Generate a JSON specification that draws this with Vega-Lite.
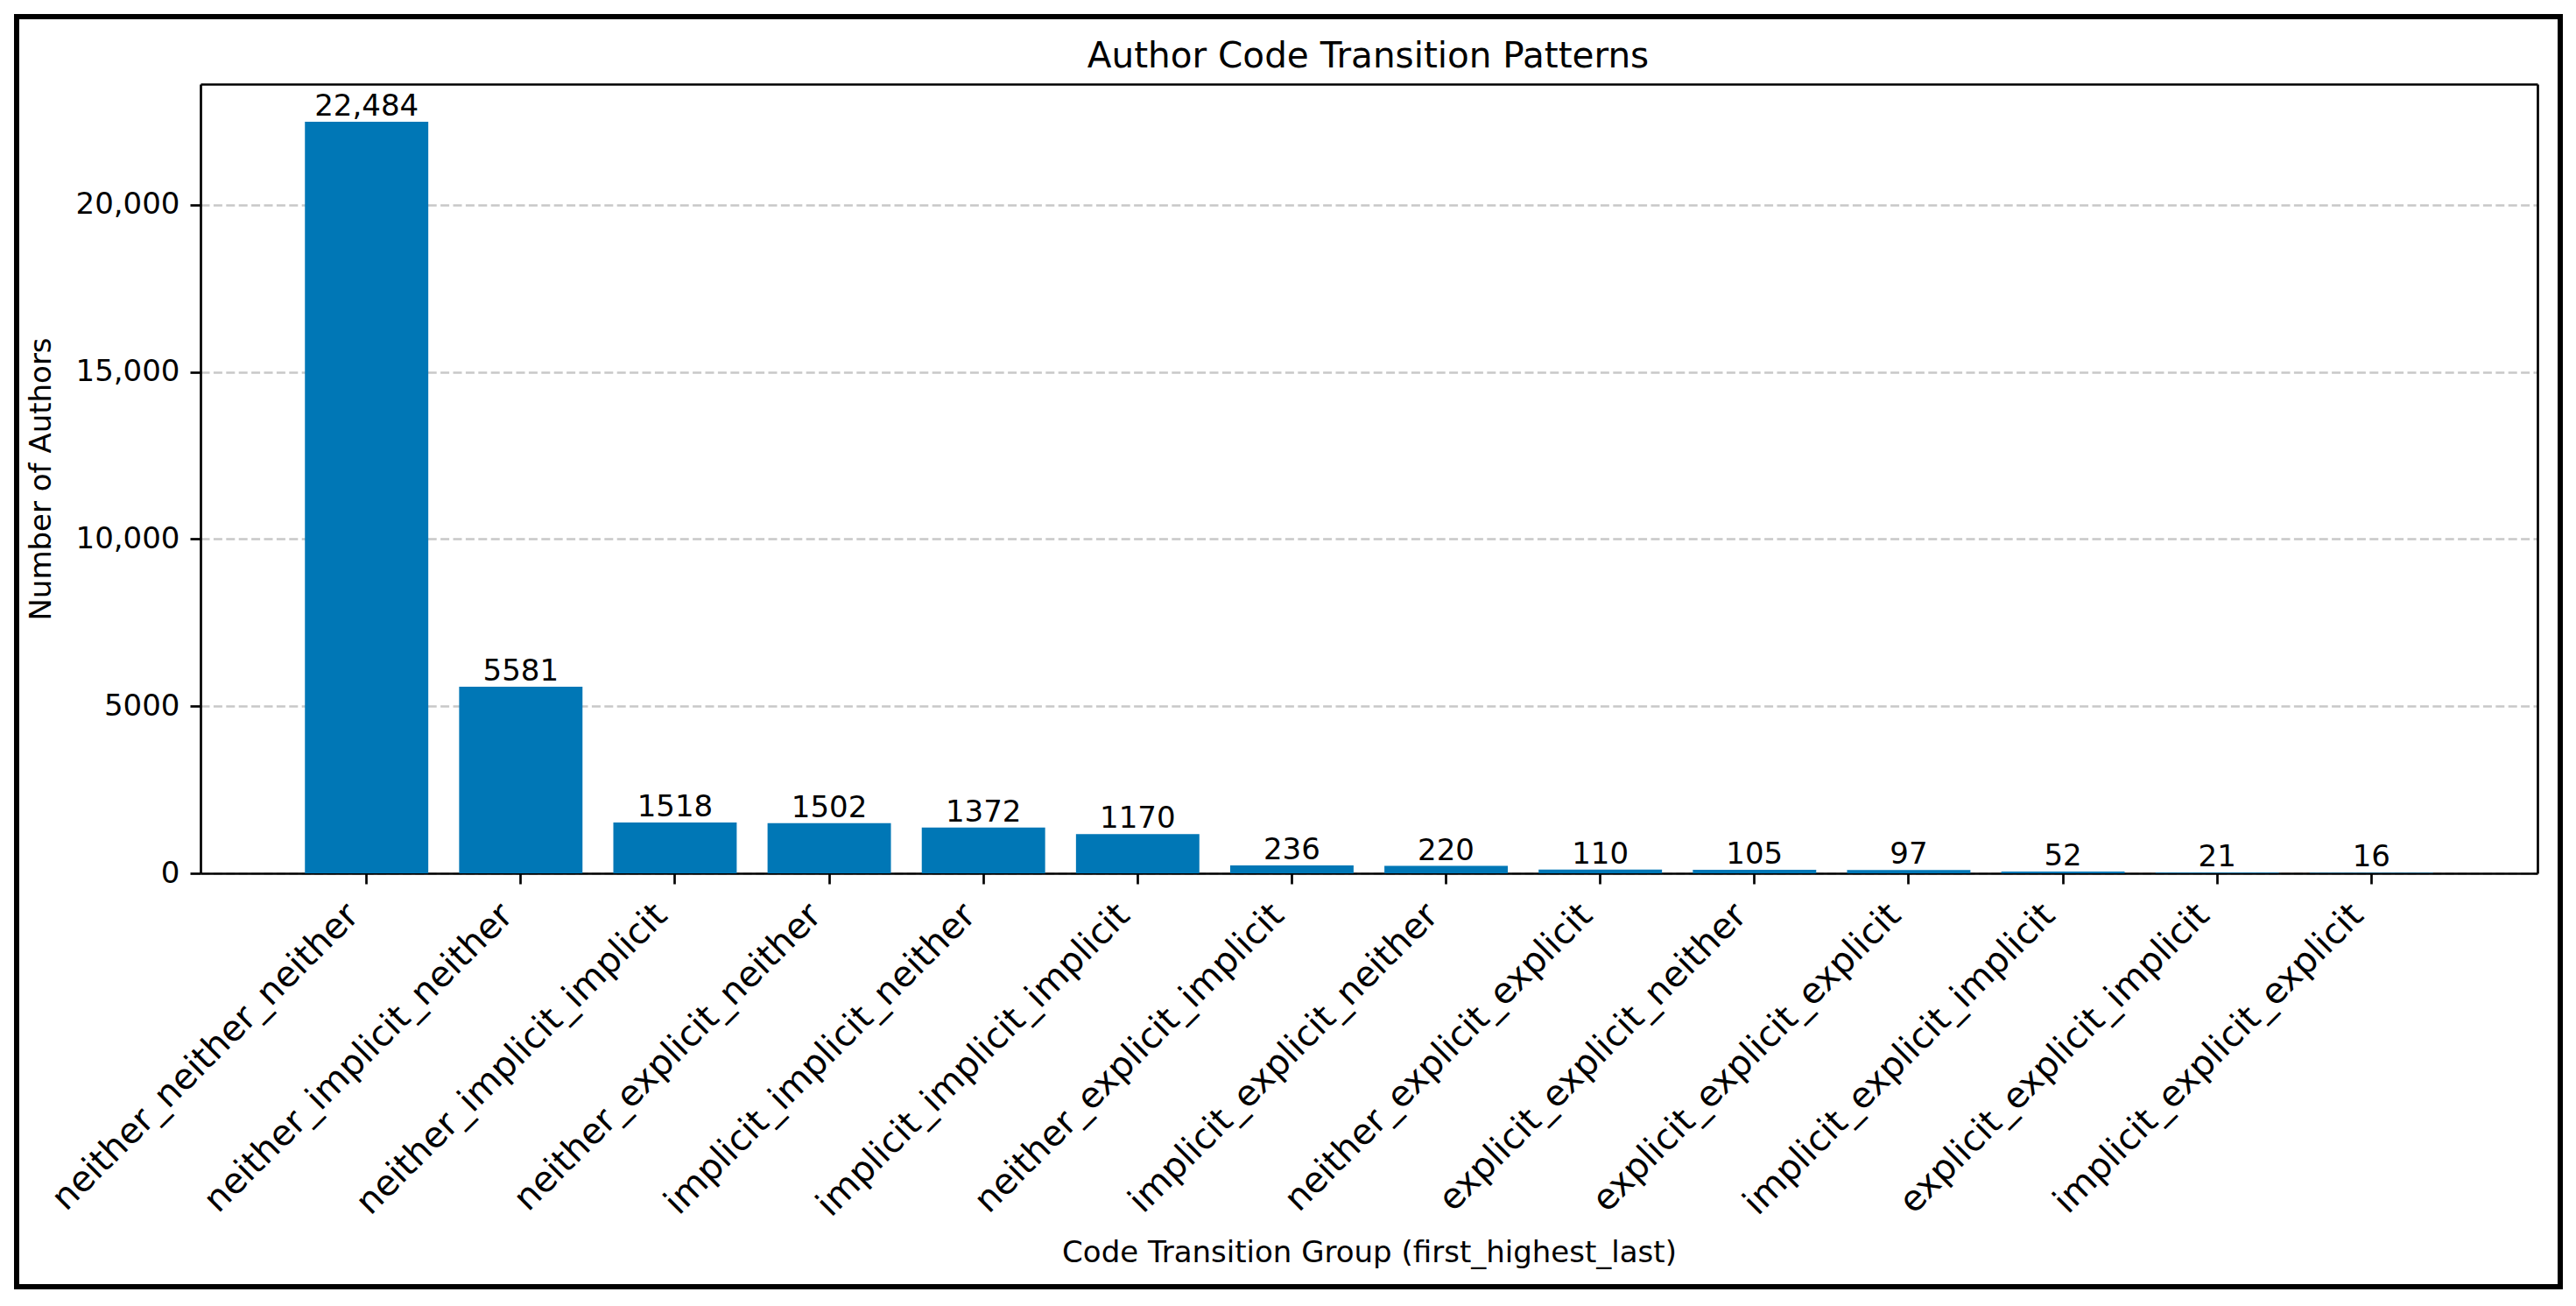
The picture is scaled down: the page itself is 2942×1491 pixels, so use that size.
{
  "$schema": "https://vega.github.io/schema/vega-lite/v6.json",
  "width": 2905,
  "height": 1450,
  "autosize": {"type": "none"},
  "padding": {"left": 19, "top": 19, "right": 18, "bottom": 22},
  "background": "white",
  "title": {
    "text": "Author Code Transition Patterns",
    "font": "DejaVu Sans",
    "fontSize": 40.5,
    "fontWeight": "normal",
    "color": "black",
    "anchor": "middle",
    "frame": "group",
    "dx": 91,
    "offset": -66
  },
  "data": {
    "values": [
      {"group": "neither_neither_neither", "count": 22484},
      {"group": "neither_implicit_neither", "count": 5581},
      {"group": "neither_implicit_implicit", "count": 1518},
      {"group": "neither_explicit_neither", "count": 1502},
      {"group": "implicit_implicit_neither", "count": 1372},
      {"group": "implicit_implicit_implicit", "count": 1170},
      {"group": "neither_explicit_implicit", "count": 236},
      {"group": "implicit_explicit_neither", "count": 220},
      {"group": "neither_explicit_explicit", "count": 110},
      {"group": "explicit_explicit_neither", "count": 105},
      {"group": "explicit_explicit_explicit", "count": 97},
      {"group": "implicit_explicit_implicit", "count": 52},
      {"group": "explicit_explicit_implicit", "count": 21},
      {"group": "implicit_explicit_explicit", "count": 16}
    ]
  },
  "layer": [
    {
      "mark": {"type": "bar", "color": "#0077b6"},
      "encoding": {
        "x": {
          "field": "group",
          "type": "nominal",
          "sort": null,
          "scale": {"type": "band", "paddingInner": 0.2, "paddingOuter": 0.677, "range": [210, 2879]},
          "axis": {
            "orient": "bottom",
            "offset": -472,
            "grid": false,
            "labelAngle": -45,
            "labelAlign": "right",
            "labelBaseline": "alphabetic",
            "labelOffset": -7,
            "labelPadding": 38,
            "labelFontSize": 40.5,
            "labelLimit": 0,
            "labelOverlap": false,
            "title": "Code Transition Group (first_highest_last)",
            "titleFontSize": 34,
            "titleBaseline": "alphabetic",
            "titleY": 443
          }
        },
        "y": {
          "field": "count",
          "type": "quantitative",
          "scale": {"domain": [0, 23608], "nice": false, "range": [978, 77]},
          "axis": {
            "orient": "left",
            "offset": -210,
            "values": [0, 5000, 10000, 15000, 20000],
            "labelExpr": "datum.value >= 10000 ? format(datum.value, ',') : format(datum.value, 'd')",
            "labelFontSize": 34,
            "labelPadding": 12,
            "labelOverlap": false,
            "grid": true,
            "gridColor": "#c8c8c8",
            "gridDash": [10, 4.4],
            "gridWidth": 2.7,
            "title": "Number of Authors",
            "titleFontSize": 34,
            "titlePadding": 22
          }
        }
      }
    },
    {
      "mark": {"type": "text", "baseline": "alphabetic", "dy": -7, "fontSize": 34, "font": "DejaVu Sans", "color": "black"},
      "encoding": {
        "x": {
          "field": "group",
          "type": "nominal",
          "sort": null,
          "axis": {"orient": "top", "offset": -77, "labels": false, "ticks": false, "grid": false, "title": null}
        },
        "y": {
          "field": "count",
          "type": "quantitative",
          "axis": {"orient": "right", "offset": -26, "labels": false, "ticks": false, "grid": false, "title": null}
        },
        "text": {
          "condition": {"test": "datum.count >= 10000", "field": "count", "type": "quantitative", "format": ","},
          "field": "count",
          "type": "quantitative",
          "format": "d"
        }
      }
    }
  ],
  "resolve": {"axis": {"x": "independent", "y": "independent"}},
  "config": {
    "view": {"stroke": "black", "strokeWidth": 6},
    "axis": {
      "labelFont": "DejaVu Sans",
      "titleFont": "DejaVu Sans",
      "labelColor": "black",
      "titleColor": "black",
      "titleFontWeight": "normal",
      "domainColor": "black",
      "domainWidth": 2.7,
      "tickColor": "black",
      "tickWidth": 2.7,
      "tickSize": 12
    }
  }
}
